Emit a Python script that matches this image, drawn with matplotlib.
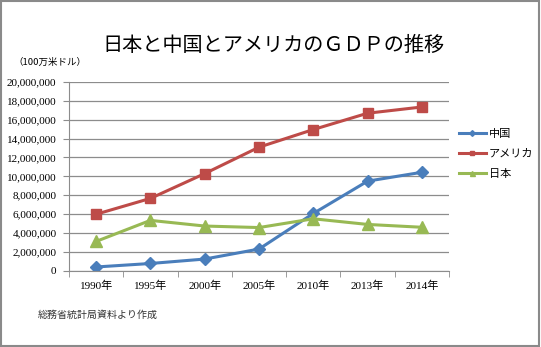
import numpy as np
import matplotlib
matplotlib.use("Agg")
import matplotlib.pyplot as plt
from matplotlib.patches import Rectangle

plt.rcParams['font.family'] = ['Liberation Serif', 'Noto Sans CJK JP']

# Data (100万米ドル)
years = ["1990年", "1995年", "2000年", "2005年", "2010年", "2013年", "2014年"]
china = [390000, 760000, 1230000, 2290000, 6060000, 9490000, 10430000]
usa = [5980000, 7660000, 10290000, 13090000, 14960000, 16690000, 17350000]
japan = [3100000, 5330000, 4730000, 4570000, 5500000, 4900000, 4600000]
yticks = np.arange(0, 20000001, 2000000)

fig = plt.figure(figsize=(5.41, 3.47), dpi=100)
ax = fig.add_axes([0.1275, 0.22, 0.7025, 0.5437])

x = np.arange(len(years))
ax.plot(x, china, color="#4A7EBB", lw=2.2, marker="D", ms=6.5, label="中国")
ax.plot(x, usa, color="#BE4B48", lw=2.2, marker="s", ms=7.5, label="アメリカ")
ax.plot(x, japan, color="#98B954", lw=2.2, marker="^", ms=8, label="日本")

ax.set_xlim(-0.5, len(years) - 0.5)
ax.set_ylim(0, 20000000)
ax.set_yticks(yticks)
ax.set_yticklabels([f"{v:,}" for v in yticks], fontsize=8)
ax.yaxis.grid(True, color="#8c8c8c", lw=0.9)
ax.set_axisbelow(True)

ax.set_xticks(x)
ax.set_xticklabels(years, fontsize=8)
ax.tick_params(axis="x", length=0, pad=7)
ax.set_xticks(np.arange(-0.5, len(years)), minor=True)
ax.tick_params(axis="x", which="minor", length=4, color="#8c8c8c", direction="out")
ax.tick_params(axis="y", length=4, color="#8c8c8c", pad=5)

for s in ["top", "right"]:
    ax.spines[s].set_visible(False)
ax.spines["left"].set_color("#8c8c8c")
ax.spines["bottom"].set_color("#8c8c8c")

leg = ax.legend(loc="center left", bbox_to_anchor=(1.0, 0.62), frameon=False,
                markerscale=0.45, handlelength=2.4,
                handletextpad=0.3, labelspacing=0.9,
                prop={"family": ["Noto Sans CJK JP"], "size": 8})

fig.text(0.505, 0.87, "日本と中国とアメリカのＧＤＰの推移", ha="center", va="center",
         fontsize=14.5, family=["Noto Sans CJK JP"])
fig.text(0.025, 0.82, "（100万米ドル）", ha="left", va="center", fontsize=6.8,
         family=["Noto Sans CJK JP"])
fig.text(0.07, 0.092, "総務省統計局資料より作成", ha="left", va="center", fontsize=7.2,
         family=["Noto Sans CJK JP"], color="#333333")

fig.patches.append(Rectangle((0.002, 0.003), 0.995, 0.993, transform=fig.transFigure,
                             fill=False, edgecolor="#8a8a8a", lw=1.5))

fig.savefig("out.png", dpi=100)
